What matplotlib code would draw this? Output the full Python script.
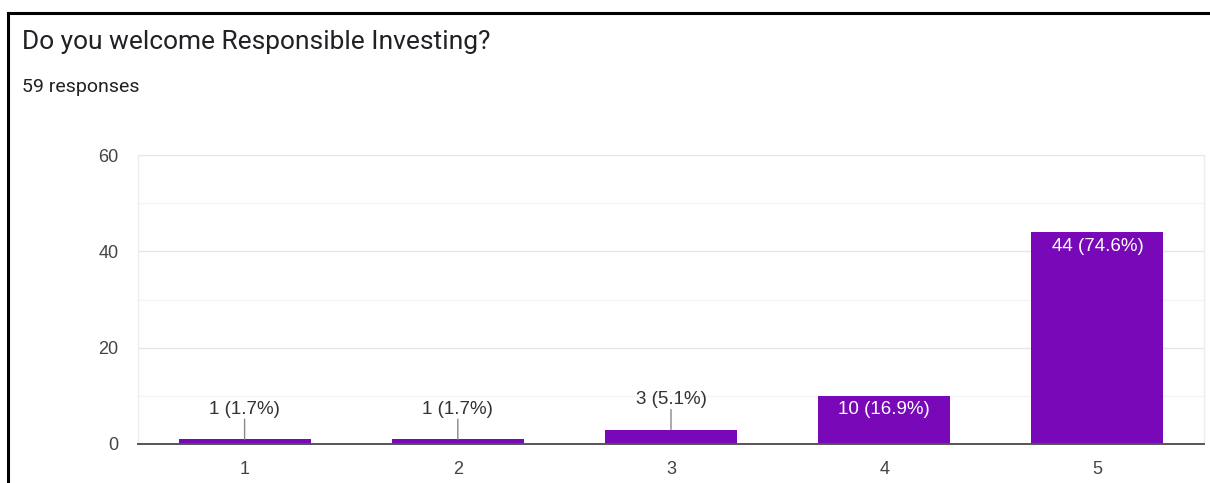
import numpy as np
import matplotlib.pyplot as plt
from matplotlib.lines import Line2D
from matplotlib.ticker import MultipleLocator

plt.rcParams['font.family'] = ['Liberation Sans', 'DejaVu Sans']

categories = ["1", "2", "3", "4", "5"]
counts = [1, 1, 3, 10, 44]
percents = [1.7, 1.7, 5.1, 16.9, 74.6]
total = 59
title = "Do you welcome Responsible Investing?"

barColor = '#7808b8'

fig = plt.figure(figsize=(12.1, 4.83), dpi=100)
ax = fig.add_axes([138 / 1210, 1 - 444 / 483, (1204 - 138) / 1210, (444 - 155) / 483])

x = np.arange(len(categories))
ax.bar(x, counts, width=0.62, color=barColor, zorder=3)

ax.set_xlim(-0.5, len(categories) - 0.5)
ax.set_ylim(0, 60)
ax.yaxis.set_major_locator(MultipleLocator(20))
ax.yaxis.set_minor_locator(MultipleLocator(10))
ax.grid(axis='y', which='major', color='#e6e6e6', linewidth=1, zorder=0)
ax.grid(axis='y', which='minor', color='#f4f4f4', linewidth=1, zorder=0)
ax.set_xticks(x)
ax.set_xticklabels(categories)
ax.tick_params(axis='both', which='both', length=0, labelsize=13, labelcolor='#444444')
ax.tick_params(axis='y', pad=14)
ax.tick_params(axis='x', pad=12)

for side in ['left', 'right']:
    ax.spines[side].set_color('#ececec')
    ax.spines[side].set_linewidth(1)
ax.spines['top'].set_visible(False)
ax.spines['bottom'].set_color('#555555')
ax.spines['bottom'].set_linewidth(1.4)
ax.spines['bottom'].set_zorder(4)

# labels: inside the bar for the tall ones, above with a small leader line for short ones
for xi, c, p in zip(x, counts, percents):
    label = "%d (%.1f%%)" % (c, p)
    if c >= 10:
        ax.annotate(label, (xi, c), xytext=(0, -14), textcoords='offset pixels',
                    ha='center', va='center', color='white', fontsize=13.5, zorder=5)
    else:
        ax.annotate("", (xi, c), xytext=(0, 20), textcoords='offset pixels',
                    arrowprops=dict(arrowstyle='-', color='#888888', lw=1,
                                    shrinkA=0, shrinkB=0))
        ax.annotate(label, (xi, c), xytext=(0, 30), textcoords='offset pixels',
                    ha='center', va='center', color='#333333', fontsize=13.5, zorder=5)

fig.text(22 / 1210, 1 - 42 / 483, title, fontsize=19, color='#202124', va='center',
         family=['Roboto', 'DejaVu Sans'])
fig.text(22 / 1210, 1 - 87 / 483, "%d responses" % total, fontsize=14, color='#202124',
         va='center', family=['Roboto', 'DejaVu Sans'])

# black frame around the screenshot
fig.add_artist(Line2D([7.5 / 1210, 1], [1 - 13 / 483, 1 - 13 / 483], color='black', lw=2.2,
                      transform=fig.transFigure))
fig.add_artist(Line2D([8 / 1210, 8 / 1210], [0, 1 - 13 / 483], color='black', lw=2.2,
                      transform=fig.transFigure))

plt.savefig('out.png', dpi=100)
